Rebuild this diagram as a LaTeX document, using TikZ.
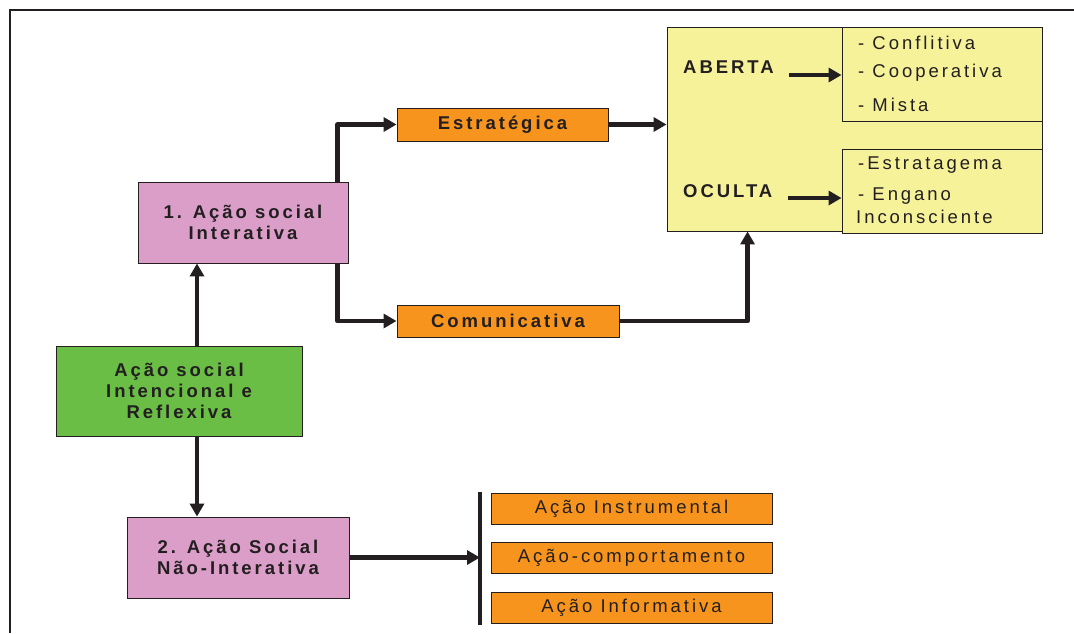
\documentclass[tikz,border=0pt]{standalone}
\usepackage{fontspec}
\setmainfont{Liberation Sans}[LetterSpace=16]
\usetikzlibrary{arrows.meta}
\definecolor{actpink}{HTML}{DB9EC8}
\definecolor{actgreen}{HTML}{6ABD45}
\definecolor{actorange}{HTML}{F7941D}
\definecolor{actyellow}{HTML}{F6F29A}
\definecolor{ink}{HTML}{231F20}
\tikzset{
    box/.style={draw=ink, line width=0.9pt, inner sep=0pt, align=center,
        text=ink, font=\fontsize{18.5}{21}\selectfont\bfseries},
    actbox/.style={box, fill=#1, minimum width=210pt, minimum height=81pt},
    bar/.style={box, fill=actorange, minimum height=32pt},
    thinbar/.style={bar, font=\fontsize{18.5}{21}\selectfont},
    item/.style={anchor=west, inner sep=0pt, text=ink, font=\fontsize{18.5}{21}\selectfont},
    arr/.style={draw=ink, line width=4.5pt,
        -{Triangle[length=13pt,width=14pt]}, line join=round}
}
\begin{document}
\begin{tikzpicture}[x=1pt,y=-1pt]
    \useasboundingbox (0,0) rectangle (1074,633);
    % frame
    \draw[ink, line width=1.6pt] (10,633) -- (10,10) -- (1074,10);

    % left side
    \node[actbox=actgreen, minimum width=246pt, minimum height=90pt] (intent) at (179,391)
        {Ação social\\Intencional e\\Reflexiva};
    \node[actbox=actpink] (inter) at (243,222.5) {1. Ação social\\Interativa};
    \node[actbox=actpink, minimum width=222pt] (noninter) at (238,557.5)
        {2. Ação Social\\Não-Interativa};

    % interactive branch
    \node[bar, minimum width=211pt, minimum height=33pt] (estr) at (502.5,124.5) {Estratégica};
    \node[bar, minimum width=222pt] (comu) at (508,321) {Comunicativa};

    \node[box, fill=actyellow, minimum width=375pt, minimum height=204pt] (kind) at (854.5,129) {};
    \node[box, fill=actyellow, minimum width=200pt, minimum height=94pt] (open) at (942,74) {};
    \node[box, fill=actyellow, minimum width=200pt, minimum height=84pt] (hidden) at (942,191) {};

    \node[item, font=\fontsize{18.5}{21}\selectfont\bfseries] (aberta) at (683,67) {ABERTA};
    \node[item, font=\fontsize{18.5}{21}\selectfont\bfseries] (oculta) at (683,191) {OCULTA};

    \node[item] (conf) at (858,43) {- Conflitiva};
    \node[item] (coop) at (858,73) {- Cooperativa};
    \node[item] (mista) at (858,105) {- Mista};
    \node[item] (estrg) at (858,165) {-Estratagema};
    \node[item] (engano) at (858,196) {- Engano};
    \node[item] (incons) at (856,217) {Inconsciente};

    % non interactive branch
    \coordinate (bartop) at (480,492);
    \coordinate (barbot) at (480,625);
    \node[thinbar, minimum width=281pt, minimum height=31pt] (instr) at (631.5,508.5) {Ação Instrumental};
    \node[thinbar, minimum width=281pt, minimum height=31pt] (comp) at (631.5,558) {Ação-comportamento};
    \node[thinbar, minimum width=281pt, minimum height=31pt] (info) at (631.5,607.5) {Ação Informativa};

    % connectors
    \draw[arr] ([xshift=18pt]intent.north) -- ([xshift=18pt]intent.north |- inter.south);
    \draw[arr] ([xshift=18pt]intent.south) -- ([xshift=18pt]intent.south |- noninter.north);
    \draw[arr] ([xshift=-11pt]inter.north east) |- (estr.west);
    \draw[arr] ([xshift=-11pt]inter.south east) |- (comu.west);
    \draw[arr] (estr.east) -- (estr.east -| kind.west);
    \draw[arr] (comu.east) -| ([xshift=81pt]kind.south west);
    \draw[arr] ([xshift=15pt,yshift=-8pt]aberta.east) -- ([yshift=-8pt]aberta.east -| open.west);
    \draw[arr] ([xshift=15pt,yshift=-7pt]oculta.east) -- ([yshift=-7pt]oculta.east -| hidden.west);
    \draw[ink, line width=4.5pt] (bartop) -- (barbot);
    \draw[arr] (noninter.east) -- (noninter.east -| bartop);
\end{tikzpicture}
\end{document}
